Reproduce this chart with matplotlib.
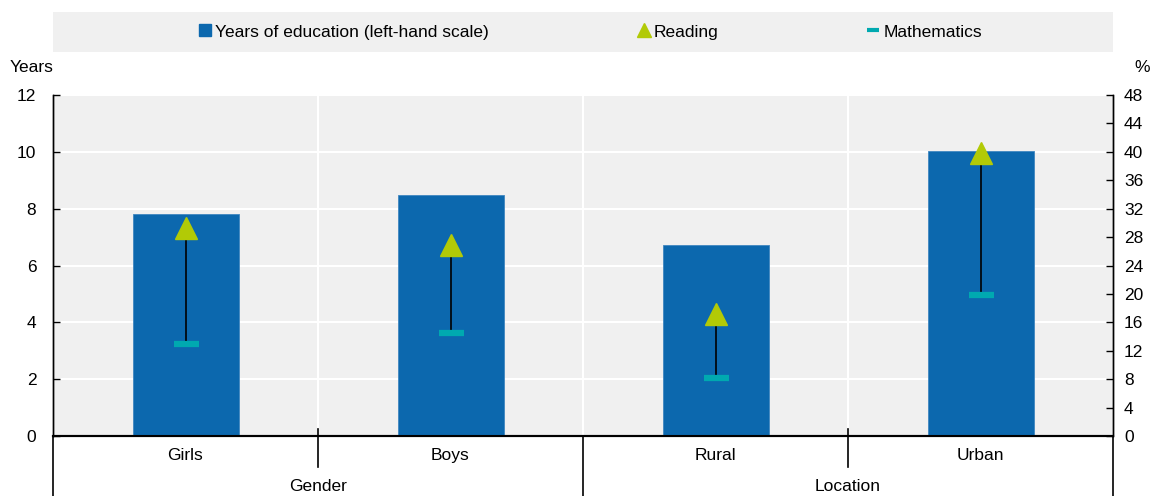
import matplotlib
matplotlib.use("Agg")
import matplotlib.pyplot as plt
from matplotlib.lines import Line2D
from matplotlib.patches import Rectangle

plt.rcParams['font.family'] = ['Liberation Sans', 'DejaVu Sans']
plt.rcParams['font.size'] = 12.5

categories = ["Girls", "Boys", "Rural", "Urban"]
groups = ["Gender", "Location"]
years = [7.81, 8.48, 6.72, 10.03]
reading = [29.3, 26.9, 17.2, 39.8]
maths = [13.0, 14.5, 8.1, 19.8]

BLUE = "#0C68AE"
GREEN = "#B2CA06"
TEAL = "#00A9B0"
BG = "#F0F0F0"
FS = 12.5

fig = plt.figure(figsize=(11.57, 4.96), dpi=100)
ax = fig.add_axes([53/1157, 1-436/496, (1113-53)/1157, (436-95)/496])
ax2 = ax.twinx()

x = list(range(len(categories)))
ax.set_facecolor(BG)
ax.bar(x, years, width=0.4, color=BLUE, edgecolor="#3F86C0", linewidth=0.6, zorder=3)
ax.set_xlim(-0.5, 3.5)
ax.set_ylim(0, 12)
ax.set_yticks(range(0, 13, 2))
ax.grid(axis='y', color='white', linewidth=1.5, zorder=1)
for b in [0.5, 1.5, 2.5]:
    ax.axvline(b, color='white', linewidth=1.5, zorder=1)
ax.set_axisbelow(True)

ax2.set_ylim(0, 48)
ax2.set_yticks(range(0, 49, 4))
for i in x:
    ax2.plot([i, i], [maths[i], reading[i]], color='black', linewidth=1.2, zorder=4)
ax2.plot(x, maths, linestyle='none', marker='_', markersize=18, markeredgewidth=4.5, color=TEAL, zorder=5)
ax2.plot(x, reading, linestyle='none', marker='^', markersize=16, color=GREEN, zorder=6)

for a in (ax, ax2):
    a.spines['top'].set_visible(False)
    a.spines['left'].set_linewidth(1.0)
    a.spines['right'].set_linewidth(1.0)
    a.spines['bottom'].set_linewidth(1.5)
ax.tick_params(axis='y', direction='in', length=5, width=1, pad=12, labelsize=FS)
ax2.tick_params(axis='y', direction='in', length=5, width=1, pad=8, labelsize=FS)
ax.set_xticks(x)
ax.set_xticklabels([])
ax.tick_params(axis='x', length=0)

# category labels
for i, c in enumerate(categories):
    ax.text(i, -0.036, c, transform=ax.get_xaxis_transform(), ha='center', va='top', fontsize=FS)
for j, g in enumerate(groups):
    ax.text(0.5 + 2*j, -0.127, g, transform=ax.get_xaxis_transform(), ha='center', va='top', fontsize=FS)

# separators below axis
tr = ax.get_xaxis_transform()
for b in [0.5, 2.5]:
    ax.add_line(Line2D([b, b], [0.02, -0.09], transform=tr, color='black', linewidth=1.2, clip_on=False))
for b in [-0.5, 1.5, 3.5]:
    ax.add_line(Line2D([b, b], [0, -0.2], transform=tr, color='black', linewidth=1.2, clip_on=False))

fig.text(10/1157, 1-68/496, "Years", ha='left', va='center', fontsize=FS)
fig.text(1142/1157, 1-68/496, "%", ha='center', va='center', fontsize=FS)

# legend box
fig.add_artist(Rectangle((53/1157, 1-52/496), (1113-53)/1157, 40/496, transform=fig.transFigure,
                         facecolor=BG, edgecolor='none', zorder=0))
handles = [
    Line2D([], [], linestyle='none', marker='s', markersize=8, color=BLUE),
    Line2D([], [], linestyle='none', marker='^', markersize=10, color=GREEN),
    Line2D([], [], linestyle='none', marker='_', markersize=9, markeredgewidth=3, color=TEAL),
]
labels = ["Years of education (left-hand scale)", "Reading", "Mathematics"]
fig.legend(handles, labels, loc='center', bbox_to_anchor=(591/1157, 1-32/496), ncol=3, frameon=False,
           handlelength=0.6, handletextpad=0.3, columnspacing=8.6, fontsize=FS)

fig.savefig("out.png", dpi=100)
